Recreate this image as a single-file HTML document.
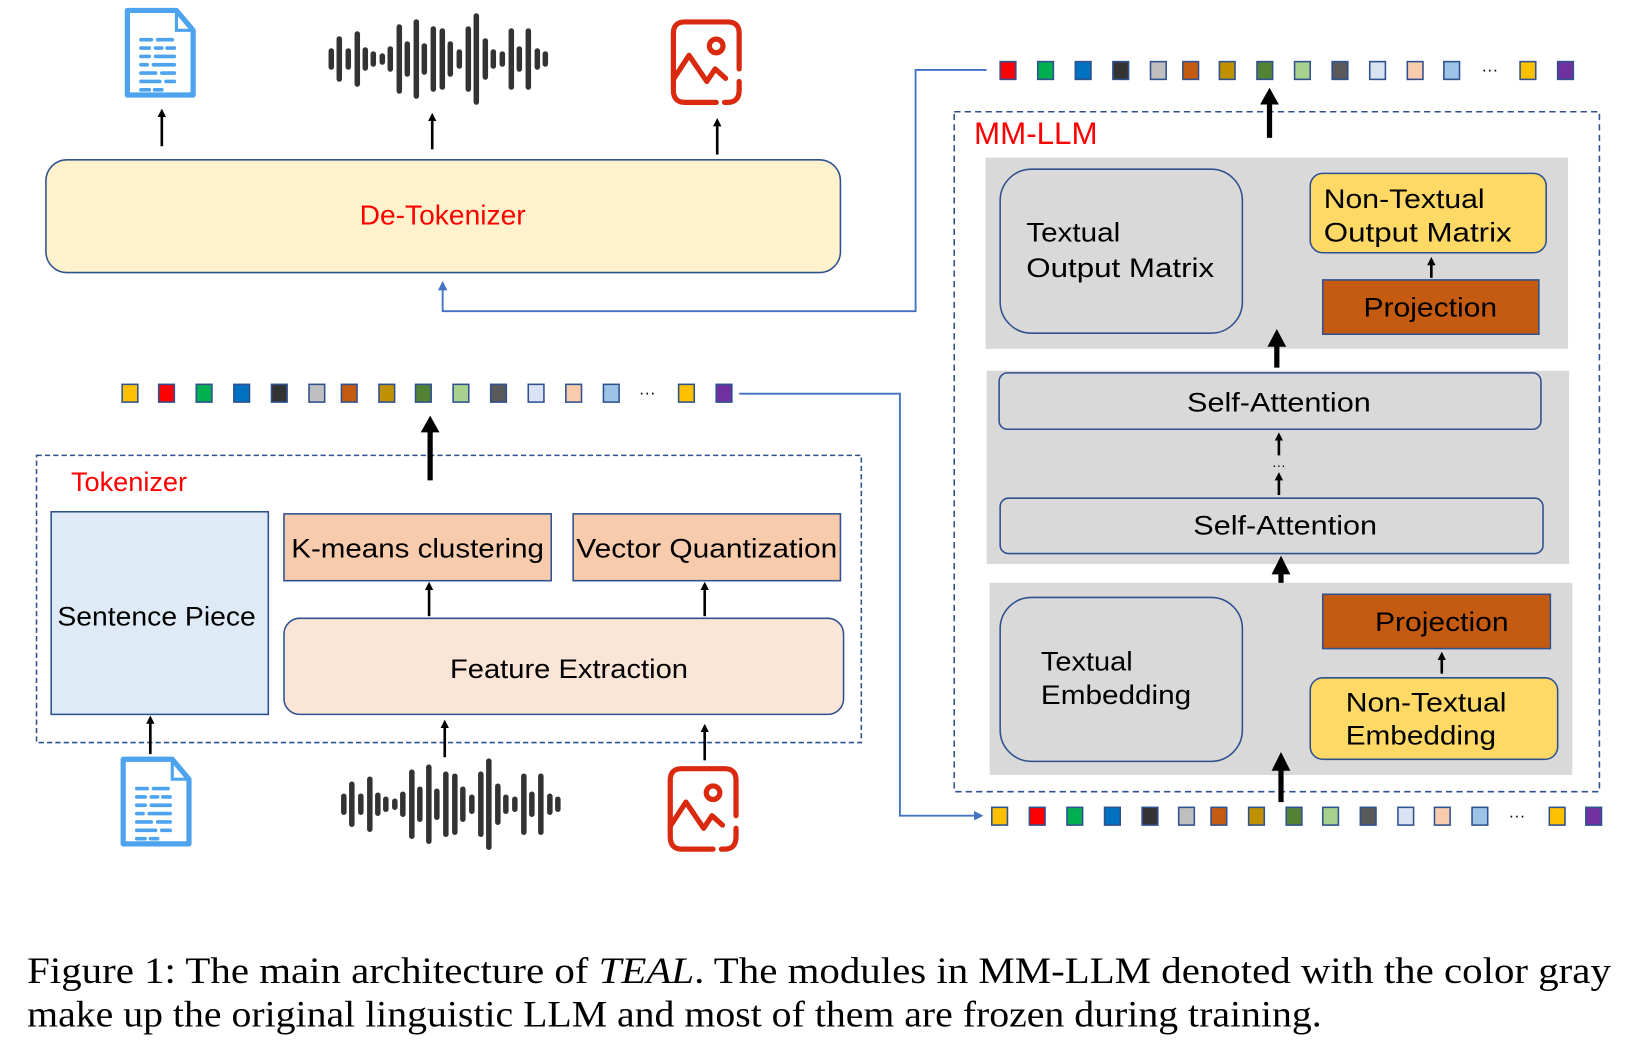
<!DOCTYPE html>
<html><head><meta charset="utf-8"><style>
html,body{margin:0;padding:0;background:#fff;}
svg{display:block;}
text{font-family:"Liberation Sans",sans-serif;}
.cap{font-family:"Liberation Serif",serif;font-size:35px;fill:#000;}
</style></head><body>
<svg width="1637" height="1058" viewBox="0 0 1568 1013" preserveAspectRatio="none" xmlns="http://www.w3.org/2000/svg">
<defs>
<marker id="ah" markerWidth="8" markerHeight="8" refX="4" refY="4" orient="auto" markerUnits="userSpaceOnUse"><path d="M0,0 L8,4 L0,8 z" fill="#000"/></marker>
<marker id="ahb" markerWidth="9" markerHeight="9" refX="5" refY="4.5" orient="auto" markerUnits="userSpaceOnUse"><path d="M0,0 L9,4.5 L0,9 z" fill="#4472C4"/></marker>
<g id="wave" stroke="#333" stroke-width="5.5" stroke-linecap="round">
<line x1="-103" y1="-8" x2="-103" y2="8"/><line x1="-95" y1="-20" x2="-95" y2="20"/><line x1="-86" y1="-8" x2="-86" y2="8"/><line x1="-77" y1="-25" x2="-77" y2="25"/><line x1="-69" y1="-9" x2="-69" y2="9"/><line x1="-61" y1="-5" x2="-61" y2="5"/><line x1="-52" y1="-3" x2="-52" y2="3"/><line x1="-44" y1="-10" x2="-44" y2="10"/><line x1="-35" y1="-32" x2="-35" y2="32"/><line x1="-27" y1="-15" x2="-27" y2="15"/><line x1="-18" y1="-37" x2="-18" y2="37"/><line x1="-10" y1="-13" x2="-10" y2="13"/><line x1="-1" y1="-30" x2="-1" y2="30"/><line x1="8" y1="-28" x2="8" y2="28"/><line x1="16" y1="-15" x2="16" y2="15"/><line x1="25" y1="-7" x2="25" y2="7"/><line x1="34" y1="-30" x2="34" y2="30"/><line x1="42" y1="-43" x2="42" y2="43"/><line x1="51" y1="-18" x2="51" y2="18"/><line x1="59" y1="-7" x2="59" y2="7"/><line x1="68" y1="-5" x2="68" y2="5"/><line x1="77" y1="-28" x2="77" y2="28"/><line x1="85" y1="-10" x2="85" y2="10"/><line x1="94" y1="-28" x2="94" y2="28"/><line x1="103" y1="-8" x2="103" y2="8"/><line x1="111" y1="-5" x2="111" y2="5"/>
</g>
<g id="doc">
<path d="M3,3 H50 L66,22 V84 H3 Z" fill="#fff" stroke="#4DA3EE" stroke-width="5" stroke-linejoin="round"/>
<path d="M50,3 V22 H66" fill="none" stroke="#4DA3EE" stroke-width="3"/>
<g stroke="#4DA3EE" stroke-width="3.5" stroke-linecap="round">
<line x1="16" y1="31" x2="26" y2="31"/><line x1="32" y1="31" x2="46" y2="31"/>
<line x1="16" y1="39" x2="24" y2="39"/><line x1="30" y1="39" x2="36" y2="39"/><line x1="41" y1="39" x2="48" y2="39"/>
<line x1="16" y1="47" x2="24" y2="47"/><line x1="30" y1="47" x2="48" y2="47"/>
<line x1="16" y1="55" x2="22" y2="55"/><line x1="28" y1="55" x2="48" y2="55"/>
<line x1="16" y1="63" x2="30" y2="63"/><line x1="36" y1="63" x2="48" y2="63"/>
<line x1="16" y1="71" x2="34" y2="71"/><line x1="40" y1="71" x2="48" y2="71"/>
<line x1="16" y1="79" x2="24" y2="79"/><line x1="29" y1="79" x2="36" y2="79"/>
</g></g>
<g id="img" fill="none" stroke="#D9290F" stroke-width="5" stroke-linecap="round" stroke-linejoin="round">
<path d="M66,48 V14 Q66,3 55,3 H14 Q3,3 3,14 V68 Q3,80 14,80 H44"/>
<path d="M52,80 H55 Q66,80 66,68 V60"/>
<circle cx="44" cy="26" r="6.5"/>
<path d="M3,58 L18,35 L35,60 L43,48 L53,57"/>
</g>
</defs>

<use href="#doc" x="119" y="7"/>
<use href="#wave" transform="translate(416,56.5) scale(0.958)"/>
<use href="#img" x="642" y="18"/>
<g stroke="#000" stroke-width="2.5">
<line x1="155" y1="140" x2="155" y2="108" marker-end="url(#ah)"/>
<line x1="414" y1="143" x2="414" y2="112" marker-end="url(#ah)"/>
<line x1="687" y1="148" x2="687" y2="117" marker-end="url(#ah)"/>
</g>

<rect x="44" y="153" width="761" height="108" rx="20" fill="#FFF2CC" stroke="#2F528F" stroke-width="1.5"/>
<text x="424" y="215" font-size="27" fill="#FF0000" text-anchor="middle">De-Tokenizer</text>

<polyline points="945,67 877,67 877,298 424,298 424,273" fill="none" stroke="#4472C4" stroke-width="1.8" marker-end="url(#ahb)"/>
<polyline points="708,377 862,377 862,781 938,781" fill="none" stroke="#4472C4" stroke-width="1.8" marker-end="url(#ahb)"/>

<g stroke="#2F528F" stroke-width="1.5">
<rect x="958" y="59" width="15" height="17" fill="#FF0000"/>
<rect x="994" y="59" width="15" height="17" fill="#00B050"/>
<rect x="1030" y="59" width="15" height="17" fill="#0070C0"/>
<rect x="1066" y="59" width="15" height="17" fill="#333333"/>
<rect x="1102" y="59" width="15" height="17" fill="#BFBFBF"/>
<rect x="1133" y="59" width="15" height="17" fill="#C55A11"/>
<rect x="1168" y="59" width="15" height="17" fill="#BF9000"/>
<rect x="1204" y="59" width="15" height="17" fill="#548235"/>
<rect x="1240" y="59" width="15" height="17" fill="#A9D18E"/>
<rect x="1276" y="59" width="15" height="17" fill="#595959"/>
<rect x="1312" y="59" width="15" height="17" fill="#DAE3F3"/>
<rect x="1348" y="59" width="15" height="17" fill="#F8CBAD"/>
<rect x="1383" y="59" width="15" height="17" fill="#9DC3E6"/>
<rect x="1456" y="59" width="15" height="17" fill="#FFC000"/>
<rect x="1492" y="59" width="15" height="17" fill="#7030A0"/>
<rect x="117" y="368" width="15" height="17" fill="#FFC000"/>
<rect x="152" y="368" width="15" height="17" fill="#FF0000"/>
<rect x="188" y="368" width="15" height="17" fill="#00B050"/>
<rect x="224" y="368" width="15" height="17" fill="#0070C0"/>
<rect x="260" y="368" width="15" height="17" fill="#333333"/>
<rect x="296" y="368" width="15" height="17" fill="#BFBFBF"/>
<rect x="327" y="368" width="15" height="17" fill="#C55A11"/>
<rect x="363" y="368" width="15" height="17" fill="#BF9000"/>
<rect x="398" y="368" width="15" height="17" fill="#548235"/>
<rect x="434" y="368" width="15" height="17" fill="#A9D18E"/>
<rect x="470" y="368" width="15" height="17" fill="#595959"/>
<rect x="506" y="368" width="15" height="17" fill="#DAE3F3"/>
<rect x="542" y="368" width="15" height="17" fill="#F8CBAD"/>
<rect x="578" y="368" width="15" height="17" fill="#9DC3E6"/>
<rect x="650" y="368" width="15" height="17" fill="#FFC000"/>
<rect x="686" y="368" width="15" height="17" fill="#7030A0"/>
<rect x="950" y="773" width="15" height="17" fill="#FFC000"/>
<rect x="986" y="773" width="15" height="17" fill="#FF0000"/>
<rect x="1022" y="773" width="15" height="17" fill="#00B050"/>
<rect x="1058" y="773" width="15" height="17" fill="#0070C0"/>
<rect x="1094" y="773" width="15" height="17" fill="#333333"/>
<rect x="1129" y="773" width="15" height="17" fill="#BFBFBF"/>
<rect x="1160" y="773" width="15" height="17" fill="#C55A11"/>
<rect x="1196" y="773" width="15" height="17" fill="#BF9000"/>
<rect x="1232" y="773" width="15" height="17" fill="#548235"/>
<rect x="1267" y="773" width="15" height="17" fill="#A9D18E"/>
<rect x="1303" y="773" width="15" height="17" fill="#595959"/>
<rect x="1339" y="773" width="15" height="17" fill="#DAE3F3"/>
<rect x="1374" y="773" width="15" height="17" fill="#F8CBAD"/>
<rect x="1410" y="773" width="15" height="17" fill="#9DC3E6"/>
<rect x="1484" y="773" width="15" height="17" fill="#FFC000"/>
<rect x="1519" y="773" width="15" height="17" fill="#7030A0"/>
</g>
<text x="1427" y="72" font-size="16" text-anchor="middle">···</text>
<text x="620" y="381" font-size="16" text-anchor="middle">···</text>
<text x="1453" y="786" font-size="16" text-anchor="middle">···</text>

<rect x="35" y="436" width="790" height="275" fill="none" stroke="#2F528F" stroke-width="1.5" stroke-dasharray="5,3"/>
<text x="68" y="470" font-size="26" fill="#FF0000">Tokenizer</text>
<line x1="412" y1="460" x2="412" y2="412" stroke="#000" stroke-width="5"/>
<path d="M403,414 L412,398 L421,414 Z" fill="#000"/>
<rect x="49" y="490" width="208" height="194" fill="#DEEBF7" stroke="#2F528F" stroke-width="1.5"/>
<text x="150" y="599" font-size="26" text-anchor="middle" textLength="190" lengthAdjust="spacingAndGlyphs">Sentence Piece</text>
<rect x="272" y="492" width="256" height="64" fill="#F8CBAD" stroke="#2F528F" stroke-width="1.5"/>
<text x="400" y="534" font-size="26" text-anchor="middle" textLength="242" lengthAdjust="spacingAndGlyphs">K-means clustering</text>
<rect x="549" y="492" width="256" height="64" fill="#F8CBAD" stroke="#2F528F" stroke-width="1.5"/>
<text x="677" y="534" font-size="26" text-anchor="middle" textLength="250" lengthAdjust="spacingAndGlyphs">Vector Quantization</text>
<rect x="272" y="592" width="536" height="92" rx="15" fill="#FBE5D6" stroke="#2F528F" stroke-width="1.5"/>
<text x="545" y="649" font-size="26" text-anchor="middle" textLength="228" lengthAdjust="spacingAndGlyphs">Feature Extraction</text>
<g stroke="#000" stroke-width="2.5">
<line x1="411" y1="590" x2="411" y2="561" marker-end="url(#ah)"/>
<line x1="675" y1="590" x2="675" y2="561" marker-end="url(#ah)"/>
<line x1="144" y1="722" x2="144" y2="689" marker-end="url(#ah)"/>
<line x1="426" y1="725" x2="426" y2="693" marker-end="url(#ah)"/>
<line x1="675" y1="728" x2="675" y2="697" marker-end="url(#ah)"/>
</g>
<use href="#doc" x="115" y="724"/>
<use href="#wave" transform="translate(428,770) scale(0.958)"/>
<use href="#img" x="639" y="733"/>

<rect x="914" y="107" width="618" height="651" fill="none" stroke="#2F528F" stroke-width="1.5" stroke-dasharray="6,4"/>
<text x="933" y="138" font-size="30" fill="#FF0000">MM-LLM</text>
<line x1="1216" y1="132" x2="1216" y2="98" stroke="#000" stroke-width="5"/>
<path d="M1207,100 L1216,84 L1225,100 Z" fill="#000"/>

<rect x="944" y="151" width="558" height="183" fill="#D9D9D9"/>
<rect x="958" y="162" width="232" height="157" rx="30" fill="#D9D9D9" stroke="#2F528F" stroke-width="1.5"/>
<text x="983" y="231" font-size="26" textLength="90" lengthAdjust="spacingAndGlyphs">Textual</text>
<text x="983" y="265" font-size="26" textLength="180" lengthAdjust="spacingAndGlyphs">Output Matrix</text>
<rect x="1255" y="166" width="226" height="76" rx="12" fill="#FFD966" stroke="#2F528F" stroke-width="1.5"/>
<text x="1268" y="199" font-size="26" textLength="154" lengthAdjust="spacingAndGlyphs">Non-Textual</text>
<text x="1268" y="231" font-size="26" textLength="180" lengthAdjust="spacingAndGlyphs">Output Matrix</text>
<rect x="1267" y="268" width="207" height="52" fill="#C55A11" stroke="#2F528F" stroke-width="1.5"/>
<text x="1370" y="303" font-size="26" text-anchor="middle" textLength="128" lengthAdjust="spacingAndGlyphs">Projection</text>
<line x1="1371" y1="266" x2="1371" y2="250" stroke="#000" stroke-width="2.5" marker-end="url(#ah)"/>
<line x1="1223" y1="352" x2="1223" y2="330" stroke="#000" stroke-width="5"/>
<path d="M1214,332 L1223,315 L1232,332 Z" fill="#000"/>

<rect x="945" y="355" width="558" height="185" fill="#D9D9D9"/>
<rect x="957" y="357" width="519" height="54" rx="8" fill="#D9D9D9" stroke="#2F528F" stroke-width="1.5"/>
<text x="1225" y="394" font-size="26" text-anchor="middle" textLength="176" lengthAdjust="spacingAndGlyphs">Self-Attention</text>
<rect x="958" y="477" width="520" height="53" rx="8" fill="#D9D9D9" stroke="#2F528F" stroke-width="1.5"/>
<text x="1231" y="512" font-size="26" text-anchor="middle" textLength="176" lengthAdjust="spacingAndGlyphs">Self-Attention</text>
<g stroke="#000" stroke-width="2.5">
<line x1="1225" y1="436" x2="1225" y2="418" marker-end="url(#ah)"/>
<line x1="1225" y1="474" x2="1225" y2="456" marker-end="url(#ah)"/>
</g>
<text x="1225" y="450" font-size="13" text-anchor="middle">···</text>
<line x1="1227" y1="574" x2="1227" y2="548" stroke="#000" stroke-width="5"/>
<path d="M1218,550 L1227,532 L1236,550 Z" fill="#000"/>

<rect x="948" y="558" width="558" height="184" fill="#D9D9D9"/>
<rect x="958" y="572" width="232" height="157" rx="30" fill="#D9D9D9" stroke="#2F528F" stroke-width="1.5"/>
<text x="997" y="642" font-size="26" textLength="88" lengthAdjust="spacingAndGlyphs">Textual</text>
<text x="997" y="674" font-size="26" textLength="144" lengthAdjust="spacingAndGlyphs">Embedding</text>
<rect x="1267" y="569" width="218" height="52" fill="#C55A11" stroke="#2F528F" stroke-width="1.5"/>
<text x="1381" y="604" font-size="26" text-anchor="middle" textLength="128" lengthAdjust="spacingAndGlyphs">Projection</text>
<line x1="1381" y1="645" x2="1381" y2="628" stroke="#000" stroke-width="2.5" marker-end="url(#ah)"/>
<rect x="1255" y="649" width="237" height="78" rx="12" fill="#FFD966" stroke="#2F528F" stroke-width="1.5"/>
<text x="1289" y="681" font-size="26" textLength="154" lengthAdjust="spacingAndGlyphs">Non-Textual</text>
<text x="1289" y="713" font-size="26" textLength="144" lengthAdjust="spacingAndGlyphs">Embedding</text>
<line x1="1227" y1="768" x2="1227" y2="736" stroke="#000" stroke-width="5"/>
<path d="M1218,738 L1227,720 L1236,738 Z" fill="#000"/>

<text class="cap" x="26" y="941" textLength="1517" lengthAdjust="spacingAndGlyphs">Figure 1: The main architecture of <tspan font-style="italic">TEAL</tspan>. The modules in MM-LLM denoted with the color gray</text>
<text class="cap" x="26" y="983" textLength="1240" lengthAdjust="spacingAndGlyphs">make up the original linguistic LLM and most of them are frozen during training.</text>
</svg>
</body></html>
